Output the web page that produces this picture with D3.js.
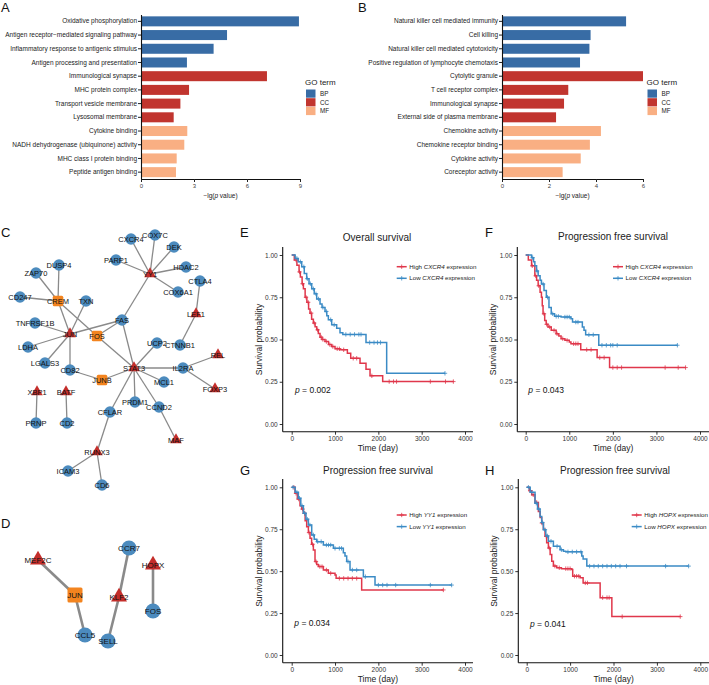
<!DOCTYPE html>
<html>
<head>
<meta charset="utf-8">
<script src="https://cdn.jsdelivr.net/npm/d3@7"></script>
<style>
body { margin: 0; background: #fff; }
text { font-family: "Liberation Sans", Arial, Helvetica, sans-serif; }
</style>
</head>
<body>
<svg id="fig" width="709" height="685"></svg>
<script>
const svg = d3.select("#fig");

// ---------- data: GO enrichment (A, B)
const goGroups = ["BP", "CC", "MF"];
const goColors = ["#386CA5", "#C1352F", "#F9AF83"];

const termsA = ["Oxidative phosphorylation", "Antigen receptor\u2212mediated signaling pathway",
  "Inflammatory response to antigenic stimulus", "Antigen processing and presentation",
  "Immunological synapse", "MHC protein complex", "Transport vesicle membrane", "Lysosomal membrane",
  "Cytokine binding", "NADH dehydrogenase (ubiquinone) activity", "MHC class I protein binding",
  "Peptide antigen binding"];
const valuesA = [8.94, 4.87, 4.11, 2.60, 7.13, 2.72, 2.23, 1.85, 2.62, 2.45, 2.02, 1.98];
const groupsA = ["BP", "BP", "BP", "BP", "CC", "CC", "CC", "CC", "MF", "MF", "MF", "MF"];
const ticksA = [0, 3, 6, 9];

const termsB = ["Natural killer cell mediated immunity", "Cell killing",
  "Natural killer cell mediated cytotoxicity", "Positive regulation of lymphocyte chemotaxis",
  "Cytolytic granule", "T cell receptor complex", "Immunological synapse",
  "External side of plasma membrane", "Chemokine activity", "Chemokine receptor binding",
  "Cytokine activity", "Coreceptor activity"];
const valuesB = [5.28, 3.77, 3.72, 3.32, 6.0, 2.82, 2.64, 2.30, 4.21, 3.74, 3.35, 2.58];
const groupsB = ["BP", "BP", "BP", "BP", "CC", "CC", "CC", "CC", "MF", "MF", "MF", "MF"];
const ticksB = [0, 2, 4, 6];

// ---------- data: networks (C, D); x,y are layout coordinates
const nodesC = [
  {id: "CXCR4", type: "gene", x: 131, y: 14}, {id: "COX7C", type: "gene", x: 155, y: 10},
  {id: "DEK", type: "gene", x: 174, y: 22}, {id: "PARP1", type: "gene", x: 116, y: 35},
  {id: "YY1", type: "tf", x: 150, y: 49}, {id: "HDAC2", type: "gene", x: 186, y: 42},
  {id: "COX6A1", type: "gene", x: 178, y: 67}, {id: "CTLA4", type: "gene", x: 200, y: 56},
  {id: "DUSP4", type: "gene", x: 59, y: 40}, {id: "ZAP70", type: "gene", x: 36, y: 48},
  {id: "CD247", type: "gene", x: 20, y: 72}, {id: "CREM", type: "hub", x: 58, y: 76},
  {id: "TXN", type: "gene", x: 86, y: 76}, {id: "TNFRSF1B", type: "gene", x: 35, y: 98},
  {id: "JUN", type: "tf", x: 70, y: 109}, {id: "FAS", type: "gene", x: 122, y: 95},
  {id: "FOS", type: "hub", x: 97, y: 111}, {id: "LDHA", type: "gene", x: 28, y: 122},
  {id: "LGALS3", type: "gene", x: 45, y: 138}, {id: "CD82", type: "gene", x: 70, y: 145},
  {id: "JUNB", type: "hub", x: 102, y: 155}, {id: "STAT3", type: "tf", x: 134, y: 143},
  {id: "UCP2", type: "gene", x: 157, y: 118}, {id: "MCL1", type: "gene", x: 164, y: 157},
  {id: "IL2RA", type: "gene", x: 183, y: 143}, {id: "CTNNB1", type: "gene", x: 180, y: 120},
  {id: "LEF1", type: "tf", x: 196, y: 89}, {id: "REL", type: "tf", x: 218, y: 130},
  {id: "FOXP3", type: "tf", x: 215, y: 164}, {id: "PRDM1", type: "gene", x: 135, y: 177},
  {id: "CCND2", type: "gene", x: 159, y: 182}, {id: "CFLAR", type: "gene", x: 110, y: 187},
  {id: "XBP1", type: "tf", x: 37, y: 167}, {id: "BATF", type: "tf", x: 66, y: 167},
  {id: "PRNP", type: "gene", x: 36, y: 198}, {id: "CD2", type: "gene", x: 67, y: 198},
  {id: "MAF", type: "tf", x: 176, y: 215}, {id: "RUNX3", type: "tf", x: 97, y: 227},
  {id: "ICAM3", type: "gene", x: 68, y: 246}, {id: "CD6", type: "gene", x: 102, y: 260}
];
const edgesC = [
  ["YY1", "CXCR4"], ["YY1", "COX7C"], ["YY1", "DEK"], ["YY1", "PARP1"], ["YY1", "HDAC2"],
  ["YY1", "COX6A1"], ["YY1", "FAS"], ["FAS", "STAT3"], ["FAS", "JUN"], ["FAS", "FOS"],
  ["CREM", "DUSP4"], ["CREM", "ZAP70"], ["CREM", "CD247"], ["CREM", "JUN"], ["CREM", "FOS"],
  ["JUN", "TXN"], ["JUN", "TNFRSF1B"], ["JUN", "LDHA"], ["JUN", "LGALS3"], ["JUN", "CD82"],
  ["CD82", "JUNB"], ["JUNB", "STAT3"], ["FOS", "STAT3"], ["STAT3", "UCP2"], ["STAT3", "MCL1"],
  ["STAT3", "IL2RA"], ["STAT3", "PRDM1"], ["STAT3", "CCND2"], ["CCND2", "MAF"], ["STAT3", "CFLAR"],
  ["IL2RA", "REL"], ["IL2RA", "FOXP3"], ["LEF1", "CTNNB1"], ["LEF1", "CTLA4"],
  ["XBP1", "PRNP"], ["BATF", "CD2"], ["CFLAR", "RUNX3"], ["RUNX3", "ICAM3"], ["RUNX3", "CD6"]
];
const nodesD = [
  {id: "MEF2C", type: "tf", x: 38, y: 20}, {id: "JUN", type: "hub", x: 75, y: 55},
  {id: "CCL5", type: "gene", x: 85, y: 95}, {id: "CCR7", type: "gene", x: 129, y: 8},
  {id: "KLF2", type: "tf", x: 119, y: 57}, {id: "SELL", type: "gene", x: 108, y: 101},
  {id: "HOPX", type: "tf", x: 153, y: 25}, {id: "FOS", type: "gene", x: 153, y: 71}
];
const edgesD = [["MEF2C", "JUN"], ["JUN", "CCL5"], ["CCR7", "KLF2"], ["KLF2", "SELL"], ["HOPX", "FOS"]];

// ---------- data: Kaplan-Meier curves (E-H), steps are [day, survival]
const kmTimeTicks = [0, 1000, 2000, 3000, 4000];
const kmSurvTicks = [0, 0.25, 0.5, 0.75, 1];

const osCxcr4High = [[0, 1], [60, 0.97], [120, 0.94], [170, 0.9], [200, 0.87], [240, 0.83], [270, 0.8],
  [310, 0.75], [350, 0.72], [390, 0.68], [423, 0.656], [460, 0.62], [500, 0.597], [540, 0.575],
  [577, 0.557], [615, 0.535], [654, 0.514], [700, 0.5], [769, 0.488], [850, 0.47], [923, 0.458],
  [1000, 0.445], [1115, 0.439], [1285, 0.419], [1362, 0.389], [1577, 0.36], [1715, 0.324],
  [1808, 0.285], [2100, 0.251]];
const osCxcr4HighEnd = 3731;
const osCxcr4HighCens = [100, 180, 250, 330, 380, 450, 520, 600, 680, 720, 800, 880, 950, 1050, 1100,
  1200, 1420, 1500, 1850, 2250, 2350, 2420, 3200, 3550, 3731];
const osCxcr4Low = [[0, 1], [80, 0.98], [150, 0.96], [231, 0.93], [290, 0.89], [346, 0.86], [400, 0.83],
  [462, 0.8], [520, 0.77], [577, 0.74], [654, 0.71], [700, 0.69], [769, 0.666], [810, 0.64],
  [846, 0.617], [923, 0.587], [1038, 0.567], [1115, 0.54], [1180, 0.53], [1715, 0.482], [2192, 0.3]];
const osCxcr4LowEnd = 3538;
const osCxcr4LowCens = [120, 200, 280, 360, 430, 500, 560, 620, 720, 800, 900, 980, 1250, 1350, 1450,
  1550, 1600, 1800, 1900, 1980, 2050, 3538];

const pfsCxcr4High = [[0, 1], [60, 0.97], [135, 0.936], [210, 0.877], [250, 0.85], [286, 0.818],
  [330, 0.78], [361, 0.75], [380, 0.7], [398, 0.652], [436, 0.613], [470, 0.59], [511, 0.574],
  [586, 0.554], [699, 0.534], [760, 0.52], [812, 0.505], [900, 0.495], [1000, 0.485], [1038, 0.475],
  [1263, 0.44], [1639, 0.393], [1925, 0.334]];
const pfsCxcr4HighEnd = 3669;
const pfsCxcr4HighCens = [150, 230, 300, 420, 480, 550, 650, 720, 850, 950, 1100, 1150, 1200, 1400,
  1500, 1700, 1800, 2000, 2100, 2200, 3200, 3500, 3669];
const pfsCxcr4Low = [[0, 1], [135, 0.984], [180, 0.96], [210, 0.936], [250, 0.905], [286, 0.877],
  [330, 0.85], [361, 0.828], [420, 0.79], [474, 0.75], [534, 0.69], [586, 0.652], [662, 0.637],
  [812, 0.633], [1038, 0.623], [1075, 0.603], [1300, 0.574], [1338, 0.554], [1376, 0.528], [1677, 0.466]];
const pfsCxcr4LowEnd = 3481;
const pfsCxcr4LowCens = [160, 260, 400, 500, 620, 700, 750, 900, 950, 1000, 1150, 1200, 1450, 1550,
  1750, 1850, 1950, 2000, 2100, 3481];

const pfsYy1High = [[0, 1], [77, 0.964], [130, 0.93], [192, 0.89], [230, 0.87], [270, 0.845], [310, 0.8],
  [346, 0.765], [385, 0.73], [423, 0.696], [460, 0.66], [500, 0.626], [538, 0.557], [577, 0.54],
  [615, 0.527], [731, 0.507], [846, 0.487], [1000, 0.477], [1025, 0.457], [1615, 0.388]];
const pfsYy1HighEnd = 3500;
const pfsYy1HighCens = [50, 100, 160, 250, 300, 400, 480, 560, 650, 700, 800, 900, 1100, 1200, 1300,
  1400, 1500, 3500];
const pfsYy1Low = [[0, 1], [80, 0.97], [154, 0.935], [210, 0.89], [270, 0.845], [330, 0.81], [385, 0.775],
  [462, 0.716], [520, 0.69], [577, 0.676], [731, 0.656], [962, 0.636], [1192, 0.61], [1230, 0.59],
  [1269, 0.557], [1346, 0.507], [1654, 0.467], [1923, 0.417]];
const pfsYy1LowEnd = 3692;
const pfsYy1LowCens = [30, 120, 180, 240, 300, 360, 420, 500, 600, 680, 800, 850, 900, 1000, 1100, 1150,
  1300, 1400, 1500, 1700, 2000, 2100, 2200, 2400, 3200, 3692];

const pfsHopxHigh = [[0, 1], [60, 0.98], [115, 0.955], [190, 0.91], [269, 0.856], [310, 0.82],
  [346, 0.787], [385, 0.75], [423, 0.708], [460, 0.67], [500, 0.638], [540, 0.6], [577, 0.559],
  [615, 0.53], [692, 0.52], [800, 0.515], [1038, 0.51], [1060, 0.47], [1231, 0.46], [1300, 0.43],
  [1692, 0.342], [1962, 0.229]];
const pfsHopxHighEnd = 3538;
const pfsHopxHighCens = [80, 150, 230, 350, 450, 520, 650, 750, 900, 950, 1000, 1100, 1150, 1200, 1350,
  1400, 1750, 1850, 1900, 2200, 3538];
const pfsHopxLow = [[0, 1], [80, 0.97], [192, 0.905], [250, 0.87], [308, 0.826], [346, 0.79], [385, 0.747],
  [440, 0.71], [500, 0.678], [615, 0.648], [769, 0.628], [846, 0.619], [900, 0.615], [1269, 0.59],
  [1300, 0.573], [1385, 0.53]];
const pfsHopxLowEnd = 3731;
const pfsHopxLowCens = [40, 120, 220, 280, 360, 420, 480, 560, 700, 800, 950, 1050, 1150, 1250, 1450,
  1550, 1650, 1750, 1850, 1950, 2050, 2150, 2300, 3200, 3731];

const kmRed = "#E0374B";
const kmBlue = "#3B8BC5";

// ---------- panel letters
const panelLetters = [["A", 1, 12], ["B", 358, 12], ["C", 1, 237], ["D", 1, 528],
  ["E", 240, 237], ["F", 485, 237], ["G", 240, 475], ["H", 485, 475]];
svg.selectAll("text.letter").data(panelLetters).join("text").attr("class", "letter")
  .attr("x", d => d[1]).attr("y", d => d[2]).attr("font-size", 13).attr("fill", "#111")
  .text(d => d[0]);

// ---------- GO bar charts
function drawGO(terms, values, groups, ticks, b) {
  const g = svg.append("g");
  const x = d3.scaleLinear().domain([0, b.max]).range([b.left, b.right]);
  const y = d3.scaleBand().domain(terms).range([b.top, b.bottom]).paddingInner(0.27).paddingOuter(0.135);
  const color = d3.scaleOrdinal().domain(goGroups).range(goColors);

  g.selectAll("rect").data(terms).join("rect")
    .attr("x", x(0)).attr("y", d => y(d))
    .attr("width", (d, i) => x(values[i]) - x(0)).attr("height", y.bandwidth())
    .attr("fill", (d, i) => color(groups[i]));

  const ax = g.append("g").attr("transform", `translate(0,${b.bottom})`)
    .call(d3.axisBottom(x).tickValues(ticks).tickFormat(d3.format("d")).tickSize(3).tickSizeOuter(0).tickPadding(2));
  const ay = g.append("g").attr("transform", `translate(${b.left},0)`)
    .call(d3.axisLeft(y).tickSize(3).tickSizeOuter(0).tickPadding(1));
  [ax, ay].forEach(a => {
    a.attr("font-family", null).attr("font-size", 6.5);
    a.selectAll("text").attr("fill", "#1a1a1a");
    a.selectAll("line").attr("stroke", "#222");
    a.select(".domain").attr("stroke", "#111").attr("stroke-width", 1.1);
  });
  ax.selectAll("text").attr("font-size", 6).attr("fill", "#444");

  const t = g.append("text").attr("x", (b.left + b.right) / 2).attr("y", b.bottom + 19)
    .attr("text-anchor", "middle").attr("font-size", 6.5).attr("fill", "#222");
  t.append("tspan").text("\u2212lg(");
  t.append("tspan").attr("font-style", "italic").text("p");
  t.append("tspan").text(" value)");

  const lg = g.append("g").attr("transform", `translate(${b.legendX},0)`);
  lg.append("text").attr("x", 0).attr("y", 85).attr("font-size", 8).attr("fill", "#222").text("GO term");
  lg.selectAll("rect").data(goGroups).join("rect")
    .attr("x", 1).attr("y", (d, i) => 89.5 + i * 8.7).attr("width", 9.5).attr("height", 8.2)
    .attr("fill", d => color(d));
  lg.selectAll("text.k").data(goGroups).join("text").attr("class", "k")
    .attr("x", 15).attr("y", (d, i) => 96 + i * 8.7).attr("font-size", 6.3).attr("fill", "#222")
    .text(d => d);
}

drawGO(termsA, valuesA, groupsA, ticksA, {left: 141, right: 300, top: 14.5, bottom: 179, max: 9, legendX: 305});
drawGO(termsB, valuesB, groupsB, ticksB, {left: 502, right: 643, top: 14.5, bottom: 179, max: 6, legendX: 646.5});

// ---------- networks
const netColors = {gene: "#4C8BBE", tf: "#C42E2B", hub: "#F3841F"};

function drawNet(nodes, edges, s) {
  const g = svg.append("g");
  const x = d3.scaleLinear().domain([0, 1]).range([s.ox, s.ox + 1]);
  const y = d3.scaleLinear().domain([0, 1]).range([s.oy, s.oy + 1]);
  const byId = new Map(nodes.map(d => [d.id, d]));

  g.selectAll("line").data(edges).join("line")
    .attr("x1", d => x(byId.get(d[0]).x)).attr("y1", d => y(byId.get(d[0]).y))
    .attr("x2", d => x(byId.get(d[1]).x)).attr("y2", d => y(byId.get(d[1]).y))
    .attr("stroke", "#8a8a8a").attr("stroke-width", s.edgeW);

  const tri = d3.symbol(d3.symbolTriangle, s.tri * s.tri * Math.sqrt(3) / 4)();
  const nd = g.selectAll("g.node").data(nodes).join("g").attr("class", "node")
    .attr("transform", d => `translate(${x(d.x)},${y(d.y)})`);
  nd.filter(d => d.type === "gene").append("circle").attr("r", s.r).attr("fill", netColors.gene);
  nd.filter(d => d.type === "tf").append("path").attr("d", tri).attr("fill", netColors.tf);
  nd.filter(d => d.type === "hub").append("rect")
    .attr("x", -s.sq / 2).attr("y", -s.sq / 2).attr("width", s.sq).attr("height", s.sq)
    .attr("rx", 1.5).attr("fill", netColors.hub);
  nd.append("text").attr("text-anchor", "middle").attr("dy", "0.35em")
    .attr("font-size", s.font).attr("fill", "#111").text(d => d.id);
}

drawNet(nodesC, edgesC, {ox: 0, oy: 225, r: 5.7, tri: 11.5, sq: 10.5, edgeW: 1.3, font: 7.5});
drawNet(nodesD, edgesD, {ox: 0, oy: 540, r: 7.6, tri: 16, sq: 15, edgeW: 2.6, font: 8});

// ---------- Kaplan-Meier panels
const kmPanels = [
  {title: "Overall survival", gene: "CXCR4", p: "0.002",
   high: [osCxcr4High, osCxcr4HighEnd, osCxcr4HighCens], low: [osCxcr4Low, osCxcr4LowEnd, osCxcr4LowCens],
   axisX: 282.7, x0: 291.7, x4000: 465, axisRight: 473, y1: 255, y0: 424, axisY: 431.7, axisTop: 247,
   titleX: 377, titleY: 241, legX: 396.7, legY: 266.7, pX: 295, pY: 393},
  {title: "Progression free survival", gene: "CXCR4", p: "0.043",
   high: [pfsCxcr4High, pfsCxcr4HighEnd, pfsCxcr4HighCens], low: [pfsCxcr4Low, pfsCxcr4LowEnd, pfsCxcr4LowCens],
   axisX: 517.3, x0: 525.7, x4000: 700, axisRight: 709, y1: 255, y0: 424, axisY: 431.7, axisTop: 247,
   titleX: 613, titleY: 240, legX: 613, legY: 266.7, pX: 528.3, pY: 392.5},
  {title: "Progression free survival", gene: "YY1", p: "0.034",
   high: [pfsYy1High, pfsYy1HighEnd, pfsYy1HighCens], low: [pfsYy1Low, pfsYy1LowEnd, pfsYy1LowCens],
   axisX: 282.7, x0: 291.7, x4000: 465, axisRight: 473, y1: 487.3, y0: 655, axisY: 662.7, axisTop: 479,
   titleX: 378, titleY: 474, legX: 396.7, legY: 515, pX: 294.3, pY: 625.5},
  {title: "Progression free survival", gene: "HOPX", p: "0.041",
   high: [pfsHopxHigh, pfsHopxHighEnd, pfsHopxHighCens], low: [pfsHopxLow, pfsHopxLowEnd, pfsHopxLowCens],
   axisX: 518.3, x0: 526.7, x4000: 700.3, axisRight: 709, y1: 487.3, y0: 655, axisY: 662.7, axisTop: 479,
   titleX: 615, titleY: 474, legX: 631.7, legY: 515, pX: 530, pY: 626.5}
];

function stepAt(steps, t) {
  let s = steps[0][1];
  steps.forEach(d => { if (d[0] <= t) s = d[1]; });
  return s;
}

const cross = "M-2.2,0H2.2M0,-2.2V2.2";

function drawKM(p) {
  const g = svg.append("g");
  const x = d3.scaleLinear().domain([0, 4000]).range([p.x0, p.x4000]);
  const y = d3.scaleLinear().domain([0, 1]).range([p.y0, p.y1]);

  g.append("text").attr("x", p.titleX).attr("y", p.titleY).attr("text-anchor", "middle")
    .attr("font-size", 10).attr("fill", "#222").text(p.title);

  const ax = g.append("g").attr("transform", `translate(0,${p.axisY})`)
    .call(d3.axisBottom(x).tickValues(kmTimeTicks).tickFormat(d3.format("d")).tickSize(3).tickPadding(2));
  const ay = g.append("g").attr("transform", `translate(${p.axisX},0)`)
    .call(d3.axisLeft(y).tickValues(kmSurvTicks).tickFormat(d3.format(".2f")).tickSize(3).tickPadding(2));
  [ax, ay].forEach(a => {
    a.attr("font-family", null).attr("font-size", 6.5);
    a.select(".domain").remove();
    a.selectAll("text").attr("fill", "#333");
    a.selectAll("line").attr("stroke", "#333");
  });
  g.append("line").attr("x1", p.axisX).attr("x2", p.axisRight).attr("y1", p.axisY).attr("y2", p.axisY)
    .attr("stroke", "#111").attr("stroke-width", 1.1);
  g.append("line").attr("x1", p.axisX).attr("x2", p.axisX).attr("y1", p.axisTop).attr("y2", p.axisY)
    .attr("stroke", "#111").attr("stroke-width", 1.1);

  g.append("text").attr("x", (p.axisX + p.axisRight) / 2).attr("y", p.axisY + 19.5)
    .attr("text-anchor", "middle").attr("font-size", 8.5).attr("fill", "#222").text("Time (day)");
  g.append("text").attr("transform", `translate(${p.axisX - 21},${(p.y0 + p.y1) / 2}) rotate(-90)`)
    .attr("text-anchor", "middle").attr("font-size", 8.5).attr("fill", "#222").text("Survival probability");

  const line = d3.line().x(d => x(d[0])).y(d => y(d[1])).curve(d3.curveStepAfter);
  [[p.high, kmRed], [p.low, kmBlue]].forEach(([c, col]) => {
    const steps = c[0];
    const pts = steps.concat([[c[1], steps[steps.length - 1][1]]]);
    g.append("path").datum(pts).attr("d", line).attr("fill", "none")
      .attr("stroke", col).attr("stroke-width", 1.5);
    g.append("g").selectAll("path").data(c[2]).join("path")
      .attr("transform", d => `translate(${x(d)},${y(stepAt(steps, d))})`)
      .attr("d", cross).attr("stroke", col).attr("stroke-width", 0.8);
  });

  const lg = g.append("g").attr("transform", `translate(${p.legX},${p.legY})`);
  [["High", kmRed], ["Low", kmBlue]].forEach(([lab, col], i) => {
    const r = lg.append("g").attr("transform", `translate(0,${i * 11.6})`);
    r.append("line").attr("x1", 0).attr("x2", 10).attr("stroke", col).attr("stroke-width", 1.5);
    r.append("path").attr("transform", "translate(5,0)").attr("d", cross).attr("stroke", col).attr("stroke-width", 0.8);
    const t = r.append("text").attr("x", 12.6).attr("dy", "0.35em").attr("font-size", 6.2).attr("fill", "#222");
    t.append("tspan").text(lab + " ");
    t.append("tspan").attr("font-style", "italic").text(p.gene);
    t.append("tspan").text(" expression");
  });

  const pt = g.append("text").attr("x", p.pX).attr("y", p.pY).attr("font-size", 8.5).attr("fill", "#111");
  pt.append("tspan").attr("font-style", "italic").text("p");
  pt.append("tspan").text(" = " + p.p);
}

kmPanels.forEach(drawKM);
</script>
</body>
</html>
